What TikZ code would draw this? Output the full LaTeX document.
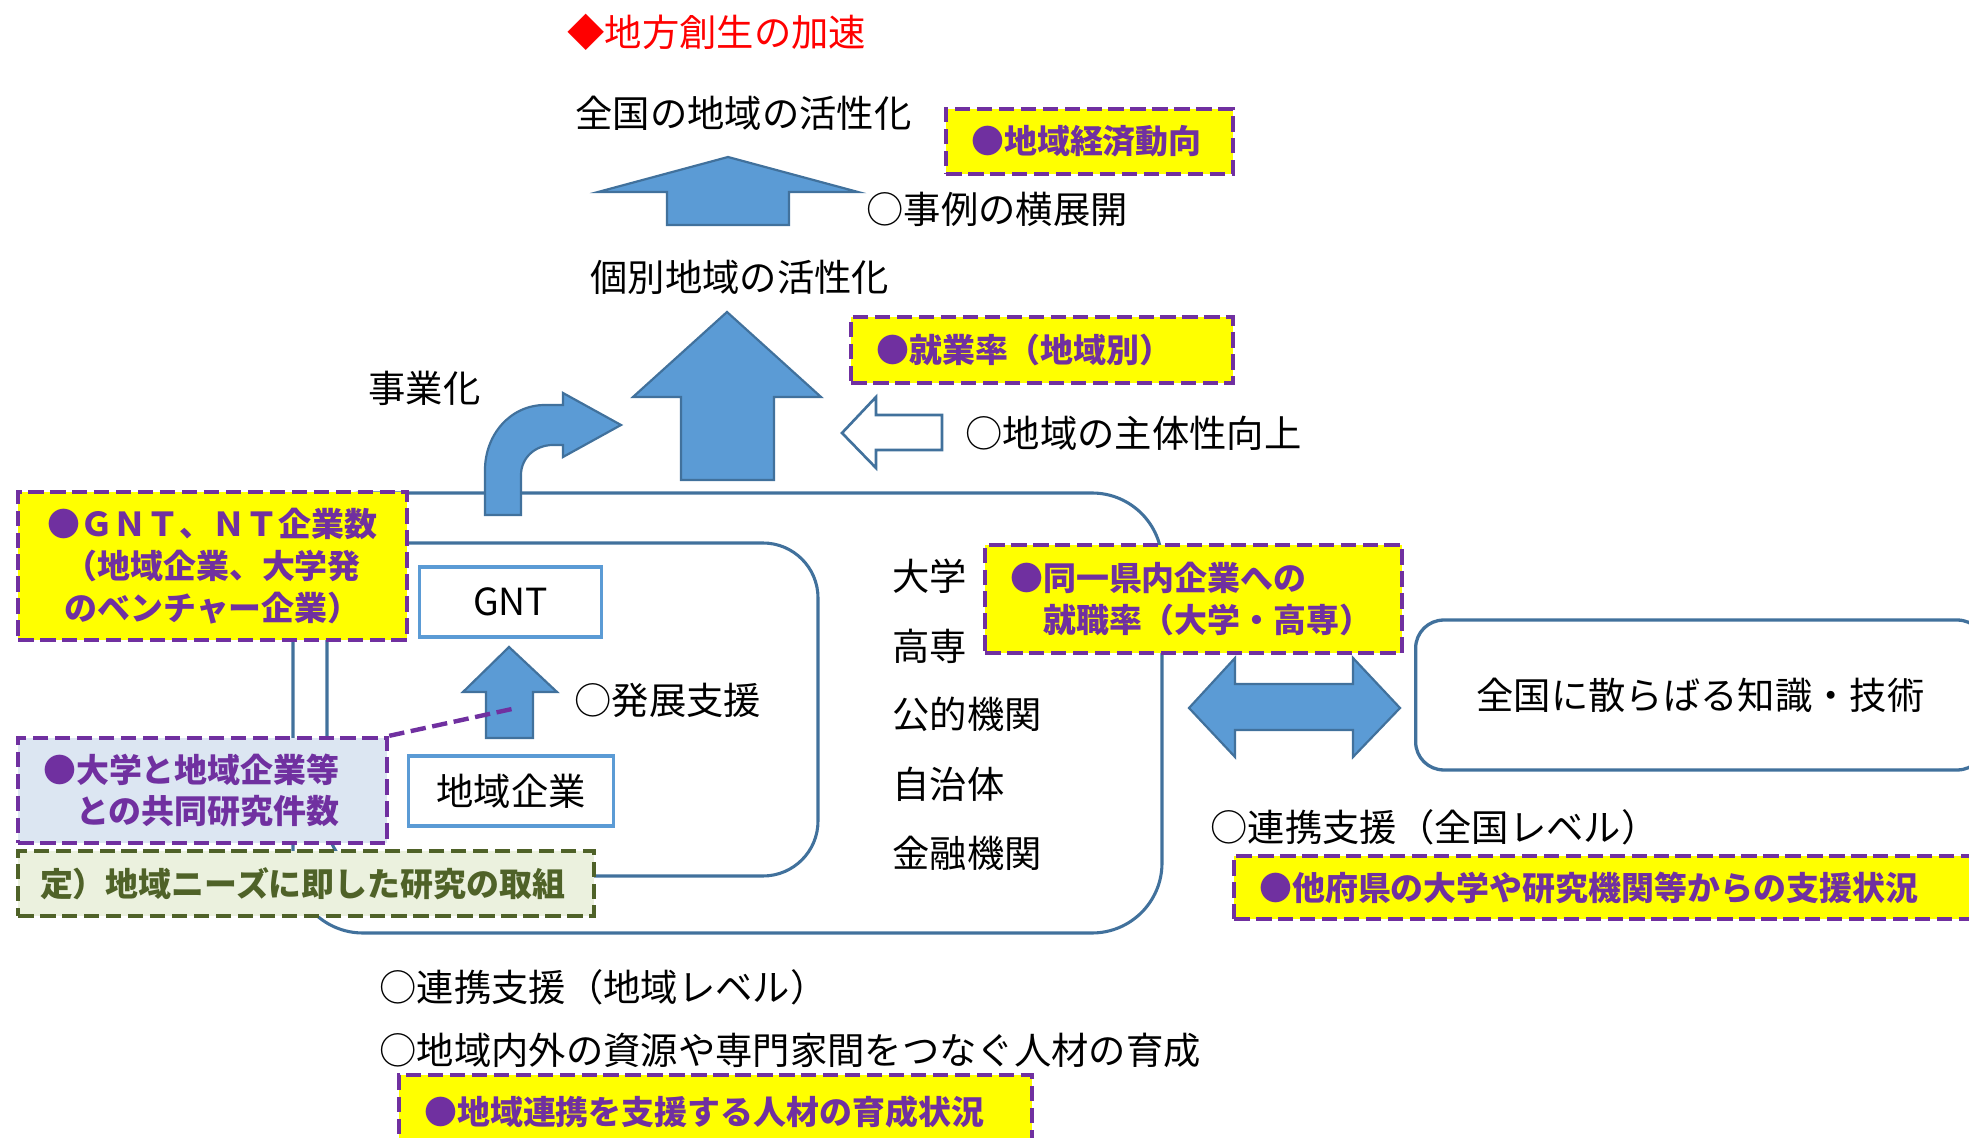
\documentclass[tikz,border=0pt]{standalone}
\usepackage{fontspec}
\setmainfont{Noto Sans CJK JP}
\definecolor{ylw}{HTML}{FFFF00}
\definecolor{pur}{HTML}{7030A0}
\definecolor{afill}{HTML}{5B9BD5}
\definecolor{aline}{HTML}{41719C}
\definecolor{lblue}{HTML}{DCE6F2}
\definecolor{lgreen}{HTML}{EBF1DE}
\definecolor{dgreen}{HTML}{4F6228}

\begin{document}
\begin{tikzpicture}[x=0.016cm,y=-0.016cm,
	txt/.style={inner sep=0pt,anchor=west,font=\fontsize{17pt}{20pt}\selectfont},
	ind/.style={draw=pur,line width=2pt,dash pattern=on 7pt off 3pt,fill=ylw,text=pur,anchor=west,
		inner xsep=0.4cm,inner ysep=0pt,align=left,font=\bfseries\fontsize{15pt}{19pt}\selectfont},
	lp/.style={draw=aline,line width=1.4pt},
	blk/.style={fill=afill,draw=aline,line width=1pt},
	wbox/.style={draw=afill,line width=1.5pt,fill=white,anchor=west,minimum height=1.12cm,
		font=\fontsize{17pt}{20pt}\selectfont}]
\useasboundingbox (0,0) rectangle (1969,1138);
\clip (0,0) rectangle (1969,1138);

% regions
\draw [lp,rounded corners=1.12cm] (293,493) rectangle (1162,933);
\draw [lp,rounded corners=0.88cm] (327,543) rectangle (818,876);

% block arrows
\draw [blk] (728,157) -- (858,192) -- (789,192) -- (789,225) -- (667,225) -- (667,192) -- (598,192) -- cycle;
\draw [blk] (727,312) -- (821,397) -- (774,397) -- (774,480) -- (681,480) -- (681,397) -- (633,397) -- cycle;
\draw [draw=aline,line width=1.2pt,fill=white] (842,433) -- (876,397) -- (876,415) -- (942,415) -- (942,450) -- (876,450) -- (876,468) -- cycle;
\draw [blk] (485,515) -- (485,470) .. controls (485,435) and (510,405) .. (545,405) -- (563,405) -- (563,393) -- (621,425)
	-- (563,457) -- (563,445) -- (553,445) .. controls (535,445) and (521,458) .. (521,475) -- (521,515) -- cycle;
\draw [blk] (509,647) -- (557,692) -- (533,692) -- (533,738) -- (486,738) -- (486,692) -- (463,692) -- cycle;
\draw [blk] (1189,708) -- (1235,658) -- (1235,684) -- (1353,684) -- (1353,658) -- (1400,708) -- (1353,757) -- (1353,730)
	-- (1235,730) -- (1235,757) -- cycle;

% texts
\node (title) at (567,32) [txt,text=red] {◆地方創生の加速};
\node (zenkoku) at (575,113) [txt] {全国の地域の活性化};
\node (yokoten) at (866,209) [txt] {○事例の横展開};
\node (kobetsu) at (590,277) [txt] {個別地域の活性化};
\node (jigyoka) at (368,388) [txt] {事業化};
\node (shutai) at (965,433) [txt] {○地域の主体性向上};
\node (hatten) at (574,700) [txt] {○発展支援};
\node (daigaku) at (892,576) [txt] {大学};
\node (kosen) at (892,646) [txt] {高専};
\node (kouteki) at (892,714) [txt] {公的機関};
\node (jichitai) at (892,784) [txt] {自治体};
\node (kinyu) at (892,853) [txt] {金融機関};
\node (zenlevel) at (1210,827) [txt] {○連携支援（全国レベル）};
\node (chilevel) at (379,987) [txt] {○連携支援（地域レベル）};
\node (jinzai) at (379,1050) [txt] {○地域内外の資源や専門家間をつなぐ人材の育成};

% boxes
\node (gnt) at (418,602) [wbox,minimum width=2.912cm] {GNT};
\node (kigyo) at (407,791) [wbox,minimum width=3.28cm] {地域企業};
\node (chishiki) at (1414,695) [wbox,draw=aline,rounded corners=0.45cm,minimum width=9.12cm,minimum height=2.4cm] {全国に散らばる知識・技術};

% indicators
\node (keizai) at (944,141.5) [ind,text width=3.792cm,minimum height=1.04cm] {●地域経済動向};
\node (shugyo) at (849,350) [ind,text width=5.312cm,minimum height=1.056cm] {●就業率（地域別）};
\node (gntsu) at (16,566) [ind,align=center,text width=5.424cm,minimum height=2.368cm] {●ＧＮＴ、ＮＴ企業数\\（地域企業、大学発\\のベンチャー企業）};
\node (shushoku) at (983,599) [ind,text width=5.872cm,minimum height=1.728cm] {●同一県内企業への\\　就職率（大学・高専）};
\node (kyodo) at (16,790.5) [ind,fill=lblue,text width=5.104cm,minimum height=1.68cm] {●大学と地域企業等\\　との共同研究件数};
\node (torikumi) at (16,883.5) [ind,draw=dgreen,fill=lgreen,text=dgreen,inner xsep=0.35cm,text width=8.516cm,minimum height=1.04cm] {定）地域ニーズに即した研究の取組};
\node (tafuken) at (1232,887.5) [ind,text width=11.84cm,minimum height=1.008cm] {●他府県の大学や研究機関等からの支援状況};
\node (ikusei) at (397,1112) [ind,text width=9.328cm,minimum height=1.184cm] {●地域連携を支援する人材の育成状況};

\coordinate (hpt) at (512,709);
\draw [draw=pur,line width=2pt,dash pattern=on 7pt off 3pt] (kyodo.north east) -- (hpt);
\end{tikzpicture}
\end{document}
